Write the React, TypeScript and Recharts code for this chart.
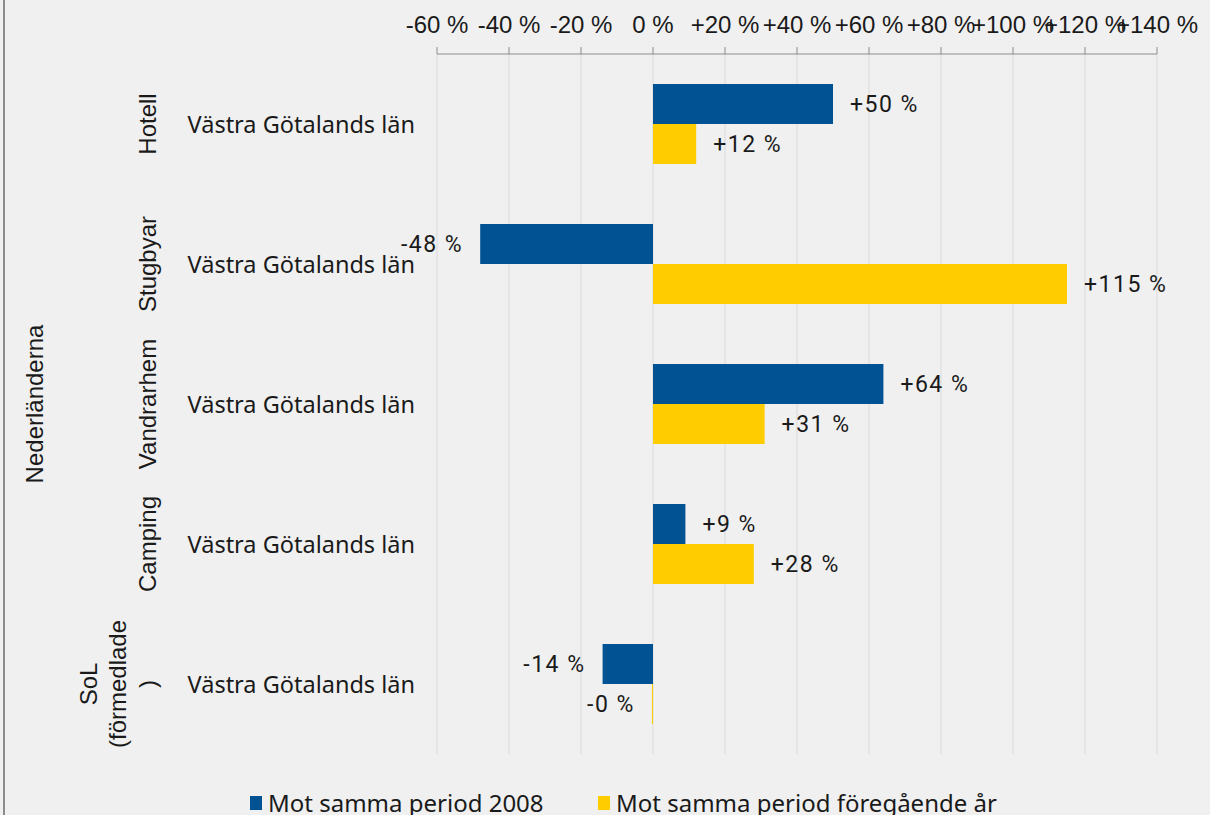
import React from "react";
import {
  BarChart,
  Bar,
  XAxis,
  YAxis,
  CartesianGrid,
  LabelList,
} from "recharts";

const groups = ["Hotell", "Stugbyar", "Vandrarhem", "Camping", "SoL (förmedlade)"];
const region = "Västra Götalands län";
const vs2008 = [50, -48, 64, 9, -14];
const vsLastYear = [12, 115, 31, 28, -0.3];
const xTicks = [-60, -40, -20, 0, 20, 40, 60, 80, 100, 120, 140];
const seriesNames = ["Mot samma period 2008", "Mot samma period föregående år"];

const BLUE = "#005293";
const YELLOW = "#ffcc00";
const TEXT = "#1a1a1a";
const ARIAL = "'Liberation Sans', Arial, sans-serif";
const SANS = "'Noto Sans', 'Open Sans', sans-serif";

const data = groups.map((g, i) => ({
  group: g,
  a: vs2008[i],
  b: vsLastYear[i],
}));

const fmtTick = (v: number) => (v > 0 ? `+${v} %` : `${v} %`);
const fmtValue = (v: number) => {
  const r = Math.abs(Math.round(v));
  return v < 0 ? `-${r} %` : `+${r} %`;
};

// group labels rotated, wrapped like the original
const groupLines: Record<string, string[]> = {
  "SoL (förmedlade)": ["SoL", "(förmedlade", ")"],
};

function CategoryTick(props: any) {
  const { y, payload } = props;
  const name: string = payload.value;
  const lines = groupLines[name] || [name];
  const gx = 147 - (lines.length - 1) * 29.5;
  return (
    <g>
      <text
        x={415}
        y={y}
        textAnchor="end"
        dominantBaseline="central"
        fontFamily={SANS}
        fontSize={23.5}
        fill={TEXT}
      >
        {region}
      </text>
      {lines.map((l, i) => (
        <text
          key={i}
          x={gx + i * 29.5}
          y={y}
          transform={`rotate(-90, ${gx + i * 29.5}, ${y})`}
          textAnchor="middle"
          dominantBaseline="central"
          fontFamily={ARIAL}
          fontSize={24}
          fill={TEXT}
        >
          {l}
        </text>
      ))}
    </g>
  );
}

function ValueLabel(props: any) {
  const { x, y, width, height, value } = props;
  const left = Math.min(x, x + width);
  const right = Math.max(x, x + width);
  const neg = value < 0;
  return (
    <text
      x={neg ? left - 17 : right + 17}
      y={y + height / 2}
      textAnchor={neg ? "end" : "start"}
      dominantBaseline="central"
      fontFamily="Roboto, sans-serif"
      fontSize={23}
      letterSpacing={1.5}
      fill={TEXT}
    >
      {fmtValue(value)}
    </text>
  );
}

export default function App() {
  const legendItems = [
    { label: seriesNames[0], color: BLUE, left: 250 },
    { label: seriesNames[1], color: YELLOW, left: 598 },
  ];
  return (
    <div
      style={{
        position: "absolute",
        left: 0,
        top: 0,
        width: 1210,
        height: 815,
        background: "#f0f0f0",
        overflow: "hidden",
      }}
    >
      <div
        style={{
          position: "absolute",
          left: 3,
          top: 0,
          width: 2,
          height: 815,
          background: "#8c8c8c",
        }}
      />
      <div
        style={{
          position: "absolute",
          left: 35,
          top: 404,
          transform: "translate(-50%, -50%) rotate(-90deg)",
          fontFamily: ARIAL,
          fontSize: 24,
          color: TEXT,
          whiteSpace: "nowrap",
        }}
      >
        Nederländerna
      </div>
      <BarChart
        width={1210}
        height={815}
        data={data}
        layout="vertical"
        margin={{ top: 24, right: 53, bottom: 61, left: 8 }}
        barSize={40}
        barGap={0}
      >
        <CartesianGrid horizontal={false} stroke="#d9d9d9" />
        <XAxis
          type="number"
          orientation="top"
          domain={[-60, 140]}
          ticks={xTicks}
          tickFormatter={fmtTick}
          allowDataOverflow
          height={30}
          axisLine={{ stroke: "#8c8c8c" }}
          tickLine={{ stroke: "#8c8c8c" }}
          tickSize={7}
          tickMargin={14}
          tick={{ fill: TEXT, fontSize: 24, fontFamily: ARIAL }}
          interval={0}
        />
        <YAxis
          type="category"
          dataKey="group"
          width={429}
          axisLine={false}
          tickLine={false}
          tick={<CategoryTick />}
          interval={0}
        />
        <Bar dataKey="a" fill={BLUE} isAnimationActive={false} name={seriesNames[0]}>
          <LabelList dataKey="a" content={<ValueLabel />} />
        </Bar>
        <Bar dataKey="b" fill={YELLOW} isAnimationActive={false} name={seriesNames[1]}>
          <LabelList dataKey="b" content={<ValueLabel />} />
        </Bar>
      </BarChart>
      {legendItems.map((it) => (
        <div
          key={it.label}
          style={{
            position: "absolute",
            left: it.left,
            top: 786,
            display: "flex",
            alignItems: "center",
            fontFamily: SANS,
            fontSize: 24,
            color: TEXT,
            whiteSpace: "nowrap",
          }}
        >
          <span
            style={{
              display: "inline-block",
              width: 12,
              height: 14,
              background: it.color,
              marginRight: 6,
            }}
          />
          {it.label}
        </div>
      ))}
    </div>
  );
}
